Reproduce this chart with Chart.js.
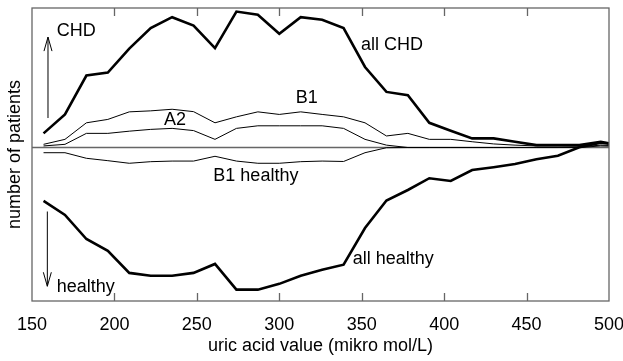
<!DOCTYPE html>
<html>
<head>
<meta charset="utf-8">
<script src="https://cdn.jsdelivr.net/npm/chart.js@4/dist/chart.umd.min.js"></script>
<style>
    html, body { margin: 0; padding: 0; background: #fff; }
</style>
</head>
<body>
<canvas id="uricChart" width="623" height="361"></canvas>
<script>
// uric acid classes (mikro mol/L)
const uricValues = [157, 170, 183, 196, 209, 222, 235, 248, 261, 274, 287, 300, 313, 326,
    339, 352, 365, 378, 391, 404, 417, 430, 443, 456, 469, 482, 495, 508];

// patients per class, CHD above the zero line, healthy below
const allCHD = [7.1, 16.6, 36.1, 37.6, 49.6, 59.9, 65.4, 61.2, 49.9, 68.2, 66.6, 57.1, 65.4, 64.1,
    59.9, 40.4, 27.9, 26.2, 12.4, 8.4, 4.6, 4.6, 2.9, 1.2, 1.2, 1.2, 2.9, 1.0];
const b1CHD = [1.6, 4.1, 12.4, 14.1, 17.9, 18.4, 19.2, 18.0, 12.4, 15.4, 17.9, 16.6, 17.9, 16.6,
    15.4, 12.4, 5.8, 7.1, 4.1, 4.1, 2.9, 1.8, 1.2, 0.8, 0.8, 0.8, 2.2, 1.5];
const a2CHD = [0.8, 1.6, 7.1, 7.1, 8.2, 9.1, 9.6, 8.5, 4.1, 9.6, 10.9, 10.9, 10.9, 10.9,
    9.6, 4.1, 1.2, 0, 0, 0, 0, 0, 0, 0, 0, 0.3, 1.2, 0.8];
const b1Healthy = [-2.6, -2.6, -5.4, -6.6, -7.9, -7.1, -6.8, -6.8, -4.4, -6.8, -7.9, -7.9, -7.1, -6.8,
    -7.0, -2.6, -0.1, 0, 0, 0, 0, 0, 0, 0, 0, 0, 0.8, 0.5];
const allHealthy = [-26.8, -33.8, -45.9, -51.8, -62.9, -64.3, -64.3, -62.9, -58.4, -71.3, -71.3, -68.4, -64.3, -61.3,
    -58.8, -40.4, -26.6, -21.3, -15.4, -16.8, -11.3, -9.9, -8.3, -5.9, -4.1, 0.1, 2.4, 1.2];

const xTicks = [150, 200, 250, 300, 350, 400, 450, 500];

const toPoints = (values) => values.map((v, i) => ({ x: uricValues[i], y: v }));

const lineSet = (label, values, width) => ({
    label,
    data: toPoints(values),
    borderColor: '#000',
    borderWidth: width,
    pointRadius: 0,
    tension: 0,
    clip: 0,
});

// text labels and arrows, placed in data units
const notes = [
    { text: 'CHD', x: 165, y: 58.2 },
    { text: 'healthy', x: 165, y: -69.8 },
    { text: 'all CHD', x: 349.5, y: 51.6 },
    { text: 'B1', x: 310, y: 24.6 },
    { text: 'A2', x: 230, y: 13.8 },
    { text: 'B1 healthy', x: 260, y: -14.3 },
    { text: 'all healthy', x: 344.5, y: -55.9 },
];
const arrows = [
    { x: 159.7, from: 14.8, to: 55.4 },
    { x: 159.3, from: -32.1, to: -69.6 },
];

const decorPlugin = {
    id: 'decor',
    beforeDatasetsDraw(chart) {
        const { ctx, chartArea: a, scales: { y } } = chart;
        const y0 = y.getPixelForValue(0);
        ctx.save();
        ctx.strokeStyle = '#666';
        ctx.lineWidth = 1.3;
        ctx.beginPath();
        ctx.moveTo(a.left, y0);
        ctx.lineTo(a.right, y0);
        ctx.stroke();
        ctx.restore();
    },
    afterDatasetsDraw(chart) {
        const { ctx, chartArea: a, scales: { x, y } } = chart;
        ctx.save();

        // frame and inward ticks
        ctx.strokeStyle = '#666';
        ctx.lineWidth = 1.3;
        ctx.strokeRect(a.left, a.top, a.right - a.left, a.bottom - a.top);
        ctx.beginPath();
        xTicks.slice(1, -1).forEach(t => {
            const px = Math.round(x.getPixelForValue(t)) + 0.5;
            ctx.moveTo(px, a.top);
            ctx.lineTo(px, a.top + 8);
            ctx.moveTo(px, a.bottom);
            ctx.lineTo(px, a.bottom - 8);
        });
        ctx.stroke();

        // arrows
        ctx.strokeStyle = '#000';
        ctx.lineWidth = 1;
        arrows.forEach(ar => {
            const px = x.getPixelForValue(ar.x);
            const p1 = y.getPixelForValue(ar.from);
            const p2 = y.getPixelForValue(ar.to);
            const dir = p2 < p1 ? 1 : -1;
            ctx.beginPath();
            ctx.moveTo(px, p1);
            ctx.lineTo(px, p2);
            ctx.moveTo(px - 4, p2 + dir * 14);
            ctx.lineTo(px, p2);
            ctx.lineTo(px + 4, p2 + dir * 14);
            ctx.stroke();
        });

        // texts
        ctx.fillStyle = '#000';
        ctx.font = '18px "Liberation Sans", Arial, sans-serif';
        ctx.textBaseline = 'middle';
        ctx.textAlign = 'left';
        notes.forEach(n => {
            ctx.fillText(n.text, x.getPixelForValue(n.x), y.getPixelForValue(n.y));
        });
        ctx.restore();
    }
};

Chart.defaults.font.family = '"Liberation Sans", Arial, sans-serif';
Chart.defaults.color = '#000';

new Chart(document.getElementById('uricChart').getContext('2d'), {
    type: 'line',
    data: {
        datasets: [
            lineSet('all CHD', allCHD, 2.6),
            lineSet('B1', b1CHD, 1),
            lineSet('A2', a2CHD, 1),
            lineSet('B1 healthy', b1Healthy, 1),
            lineSet('all healthy', allHealthy, 2.6),
        ],
    },
    options: {
        responsive: false,
        animation: false,
        layout: { padding: { top: 8, right: 0, left: 0, bottom: 0 } },
        plugins: {
            legend: { display: false },
            tooltip: { enabled: false },
        },
        scales: {
            x: {
                type: 'linear',
                min: 150,
                max: 500,
                grid: { display: false },
                border: { display: false },
                ticks: {
                    stepSize: 50,
                    padding: 5,
                    maxRotation: 0,
                    font: { size: 18 },
                },
                title: {
                    display: true,
                    text: 'uric acid value (mikro mol/L)',
                    font: { size: 18 },
                    padding: { top: 2, bottom: 4 },
                },
                afterFit(scale) {
                    scale.height = 60;
                    scale.paddingLeft = 0;
                    scale.paddingRight = 14;
                },
            },
            y: {
                type: 'linear',
                min: -77,
                max: 70,
                grid: { display: false },
                border: { display: false },
                ticks: { display: false },
                title: {
                    display: true,
                    text: 'number of patients',
                    font: { size: 18 },
                    padding: { top: 4, bottom: 0 },
                },
                afterFit(scale) { scale.width = 32; },
            },
        },
    },
    plugins: [decorPlugin],
});
</script>
</body>
</html>
